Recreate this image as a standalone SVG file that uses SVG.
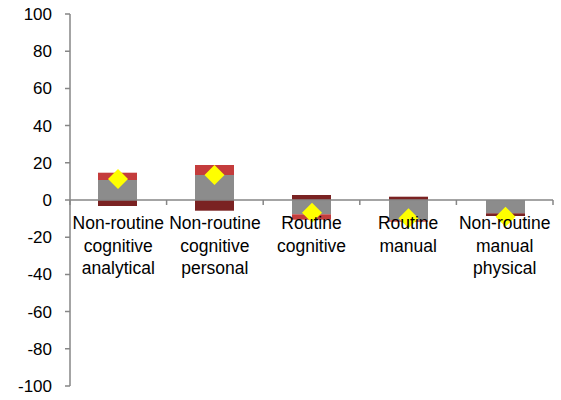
<svg xmlns="http://www.w3.org/2000/svg" width="561" height="400" viewBox="0 0 561 400">
<style>
.ax{stroke:#868686;stroke-width:1.5;fill:none}
.yl{font-family:"Liberation Sans",Arial,sans-serif;font-size:17px;fill:#000;text-anchor:end}
.cl{font-family:"Liberation Sans",Arial,sans-serif;font-size:17.5px;fill:#000;text-anchor:middle}
.g{fill:#8c8c8c}
.r{fill:#c43c3c}
.d{fill:#7a2222}
.y{fill:#ffff00}
</style>
<rect width="561" height="400" fill="#fff"/>
<g id="y-axis">
<path class="ax" d="M70,14V386M65,14H70M65,51.2H70M65,88.4H70M65,125.6H70M65,162.8H70M65,200H70M65,237.2H70M65,274.4H70M65,311.6H70M65,348.8H70M65,386H70"/>
<text class="yl" x="52" y="20">100</text>
<text class="yl" x="52" y="57.2">80</text>
<text class="yl" x="52" y="94.4">60</text>
<text class="yl" x="52" y="131.6">40</text>
<text class="yl" x="52" y="168.8">20</text>
<text class="yl" x="52" y="206">0</text>
<text class="yl" x="52" y="243.2">-20</text>
<text class="yl" x="52" y="280.4">-40</text>
<text class="yl" x="52" y="317.6">-60</text>
<text class="yl" x="52" y="354.8">-80</text>
<text class="yl" x="52" y="392">-100</text>
</g>
<g id="cat1">
<rect class="g" x="98" y="180" width="39" height="20"/>
<rect class="r" x="98" y="172.7" width="39" height="7.3"/>
<rect class="d" x="98" y="200" width="39" height="6"/>
</g>
<g id="cat2">
<rect class="g" x="195" y="175" width="39" height="25"/>
<rect class="r" x="195" y="165" width="39" height="10"/>
<rect class="d" x="195" y="200" width="39" height="10.7"/>
</g>
<g id="cat3">
<rect class="d" x="292" y="195" width="39" height="5"/>
<rect class="g" x="292" y="200" width="39" height="14.3"/>
<rect class="r" x="292" y="214.3" width="39" height="5.4"/>
</g>
<g id="cat4">
<rect class="d" x="389" y="196.7" width="39" height="3.3"/>
<rect class="g" x="389" y="200" width="39" height="20.3"/>
<rect class="r" x="389" y="220.3" width="39" height="1.4"/>
</g>
<g id="cat5">
<rect class="g" x="486" y="200" width="39" height="13.3"/>
<rect class="d" x="486" y="213.3" width="39" height="2.7"/>
</g>
<g id="x-axis">
<path class="ax" d="M70,200H553M70,200V205M166.6,200V205M263.2,200V205M359.8,200V205M456.4,200V205M553,200V205"/>
</g>
<g id="markers">
<path class="y" d="M118,169L128,179L118,189L108,179Z"/>
<path class="y" d="M214.5,165L224.5,175L214.5,185L204.5,175Z"/>
<path class="y" d="M312,202.7L322,212.7L312,222.7L302,212.7Z"/>
<path class="y" d="M408.5,208.3L418.5,218.3L408.5,228.3L398.5,218.3Z"/>
<path class="y" d="M505.5,206.7L515.5,216.7L505.5,226.7L495.5,216.7Z"/>
</g>
<g id="labels">
<text class="cl" x="118.3" y="229">Non-routine</text>
<text class="cl" x="118.3" y="251.5">cognitive</text>
<text class="cl" x="118.3" y="274">analytical</text>
<text class="cl" x="214.9" y="229">Non-routine</text>
<text class="cl" x="214.9" y="251.5">cognitive</text>
<text class="cl" x="214.9" y="274">personal</text>
<text class="cl" x="311.5" y="229">Routine</text>
<text class="cl" x="311.5" y="251.5">cognitive</text>
<text class="cl" x="408.1" y="229">Routine</text>
<text class="cl" x="408.1" y="251.5">manual</text>
<text class="cl" x="504.7" y="229">Non-routine</text>
<text class="cl" x="504.7" y="251.5">manual</text>
<text class="cl" x="504.7" y="274">physical</text>
</g>
</svg>
